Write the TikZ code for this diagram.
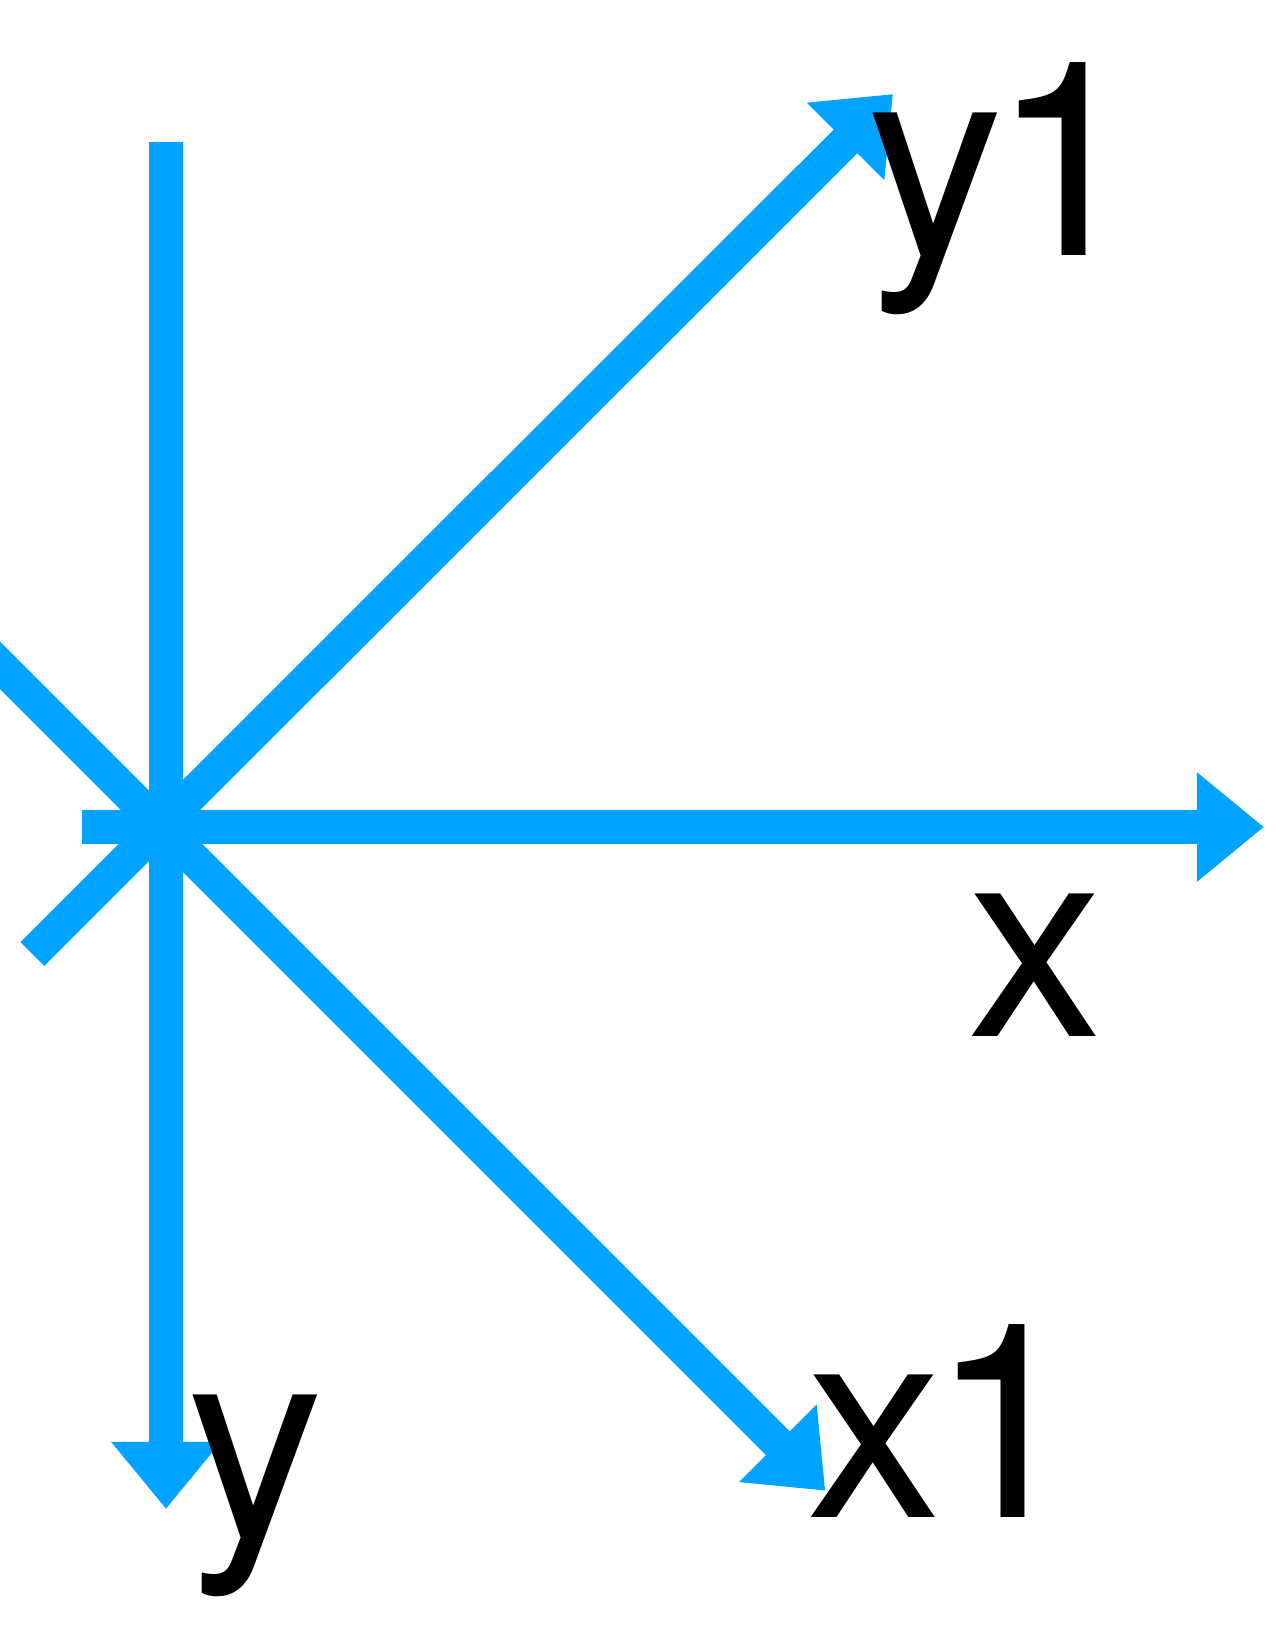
\documentclass[tikz,border=0pt]{standalone}
\usepackage{fontspec}
\setmainfont{TeX Gyre Heros}
\usetikzlibrary{arrows.meta}
\definecolor{axisblue}{RGB}{0,163,255}
\tikzset{
    axis/.style={draw=axisblue, line width=0.335cm, -{Triangle[length=0.67cm,width=1.05cm]}},
    axislabel/.style={anchor=base west, inner sep=0pt, font=\fontsize{77.4pt}{90pt}\selectfont}
}
\begin{document}
\begin{tikzpicture}[x=0.01cm, y=-0.01cm]

\useasboundingbox (0,0) rectangle (1276,1626);
\clip (0,0) rectangle (1276,1626);

% old axes
\coordinate (xs) at (82,827);
\coordinate (xe) at (1264,827);
\coordinate (ys) at (166,142);
\coordinate (ye) at (166,1509);

% rotated axes
\coordinate (x1s) at (-30,635.4);
\coordinate (x1e) at (825.3,1490.7);
\coordinate (y1s) at (32.3,954);
\coordinate (y1e) at (893,94);

\draw[axis] (ys) -- (ye);
\draw[axis] (xs) -- (xe);
\draw[axis] (x1s) -- (x1e);
\draw[axis] (y1s) -- (y1e);

\node[axislabel] (lx) at (967,1036) {x};
\node[axislabel] (ly) at (187,1537) {y};
\node[axislabel] (lxa) at (806,1517) {x\kern-0.12cm 1};
\node[axislabel] (lya) at (867,255.7) {y\kern-0.12cm 1};

\end{tikzpicture}
\end{document}
